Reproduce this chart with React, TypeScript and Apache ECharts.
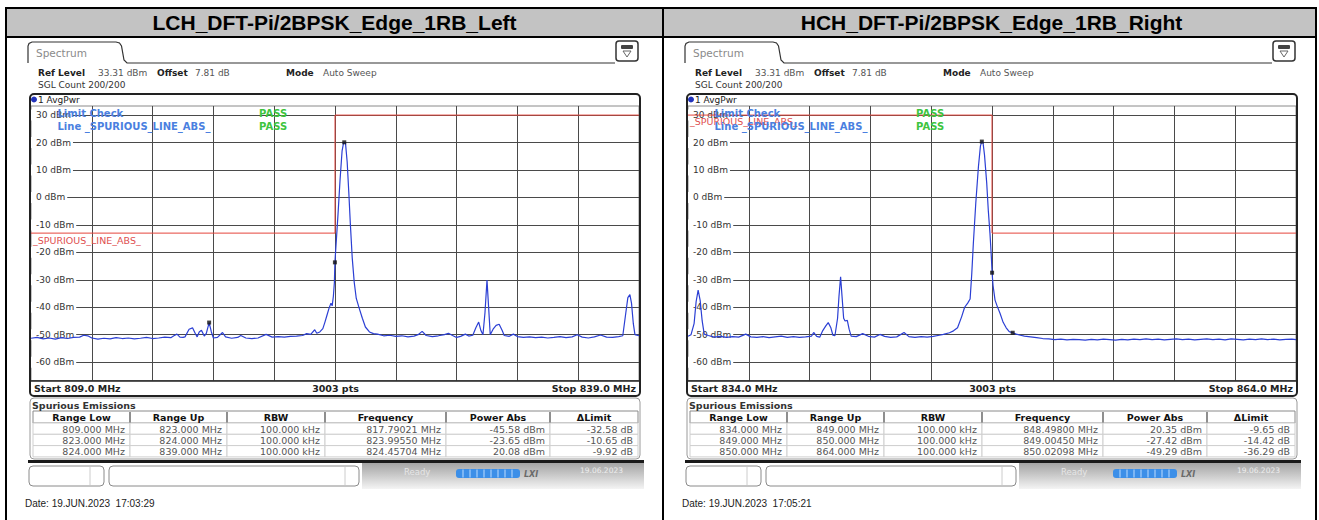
import { useEffect, useRef } from "react";
import * as echarts from "echarts";

// ---------------- data ----------------
const panelTitles = ["LCH_DFT-Pi/2BPSK_Edge_1RB_Left", "HCH_DFT-Pi/2BPSK_Edge_1RB_Right"];
const startLabels = ["Start 809.0 MHz", "Start 834.0 MHz"];
const stopLabels = ["Stop 839.0 MHz", "Stop 864.0 MHz"];
const startFreqs = [809, 834];
const stopFreqs = [839, 864];
const refLevel = 33.31;
const bottomLevel = -66.69;
const levelTicks = [30, 20, 10, 0, -10, -20, -30, -40, -50, -60];
const lchFreqTicks = [812, 815, 818, 821, 824, 827, 830, 833, 836];
const hchFreqTicks = [837, 840, 843, 846, 849, 852, 855, 858, 861];

const lchTrace: [number, number][] = [
  [809.0, -51.3], [809.3, -51.0], [809.6, -51.5], [809.9, -51.2], [810.2, -51.6], [810.5, -51.1],
  [810.8, -51.4], [811.1, -51.0], [811.4, -50.9], [811.6, -50.2], [811.8, -50.4], [812.0, -51.2],
  [812.3, -51.6], [812.6, -51.3], [812.9, -51.5], [813.2, -51.1], [813.5, -51.4], [813.8, -51.2],
  [814.1, -51.5], [814.4, -51.3], [814.7, -51.0], [815.0, -51.4], [815.3, -51.2], [815.6, -50.9],
  [815.9, -51.1], [816.05, -50.4], [816.2, -49.8], [816.35, -50.9], [816.5, -51.0], [816.6, -50.8],
  [816.8, -48.0], [816.97, -47.5], [817.1, -49.5], [817.2, -50.8], [817.3, -49.0], [817.41, -48.4],
  [817.55, -50.5], [817.65, -49.5], [817.79, -45.58], [817.9, -49.0], [818.0, -51.2], [818.2, -51.0],
  [818.45, -49.2], [818.6, -50.8], [818.9, -51.3], [819.2, -51.0], [819.35, -50.3], [819.6, -51.2],
  [819.9, -51.4], [820.2, -51.2], [820.6, -49.9], [820.9, -50.9], [821.2, -50.7], [821.5, -50.9],
  [821.8, -50.6], [822.1, -50.5], [822.4, -50.3], [822.6, -49.6], [822.8, -49.9], [823.0, -48.2],
  [823.1, -49.5], [823.25, -49.0], [823.4, -47.8], [823.5, -45.5], [823.6, -43.0], [823.7, -40.5],
  [823.8, -38.5], [823.86, -39.5], [823.92, -36.0], [823.97, -31.0], [823.9955, -23.65], [824.08, -14.0],
  [824.15, -6.0], [824.25, 6.5], [824.35, 17.0], [824.42, 19.8], [824.457, 20.08], [824.52, 19.6],
  [824.6, 13.0], [824.68, 2.0], [824.76, -10.0], [824.85, -22.0], [824.95, -31.0], [825.05, -36.8],
  [825.2, -40.5], [825.35, -44.0], [825.5, -47.2], [825.7, -49.0], [825.9, -49.6], [826.1, -49.8],
  [826.4, -50.4], [826.7, -50.2], [827.0, -50.6], [827.3, -50.4], [827.6, -50.8], [827.9, -50.5],
  [828.1, -50.0], [828.3, -48.8], [828.5, -50.3], [828.8, -50.7], [829.1, -50.4], [829.4, -50.0],
  [829.6, -49.5], [829.8, -50.3], [830.0, -51.0], [830.2, -50.6], [830.43, -49.8], [830.6, -50.5],
  [830.8, -50.2], [830.95, -47.5], [831.09, -45.4], [831.2, -48.5], [831.3, -50.0], [831.4, -42.0],
  [831.5, -30.1], [831.58, -40.0], [831.66, -50.0], [831.8, -48.0], [831.95, -46.6], [832.1, -46.2],
  [832.25, -48.5], [832.35, -50.3], [832.6, -50.6], [832.8, -49.8], [833.0, -50.7], [833.3, -51.0],
  [833.6, -50.8], [833.9, -51.1], [834.2, -50.9], [834.5, -51.2], [834.8, -51.0], [835.1, -50.7],
  [835.4, -51.1], [835.7, -50.8], [835.95, -50.0], [836.2, -50.9], [836.5, -51.2], [836.8, -50.8],
  [837.1, -50.1], [837.4, -50.9], [837.7, -51.0], [838.0, -50.7], [838.2, -50.4], [838.35, -42.0],
  [838.45, -36.5], [838.55, -35.4], [838.63, -38.5], [838.72, -46.0], [838.8, -50.0], [839.0, -50.4],
];

const hchTrace: [number, number][] = [
  [834.0, -50.6], [834.15, -50.0], [834.3, -46.0], [834.4, -38.0], [834.5, -33.8], [834.6, -37.5],
  [834.7, -45.0], [834.8, -49.8], [835.0, -50.3], [835.3, -50.9], [835.6, -50.6], [835.9, -51.0],
  [836.2, -50.7], [836.5, -50.9], [836.85, -49.8], [837.1, -50.8], [837.4, -51.0], [837.7, -50.7],
  [838.0, -51.1], [838.3, -50.8], [838.6, -50.5], [838.9, -51.0], [839.2, -50.7], [839.5, -51.0],
  [839.8, -50.8], [840.1, -50.5], [840.2, -49.2], [840.35, -50.6], [840.5, -50.9], [840.65, -48.5],
  [840.8, -46.8], [840.92, -45.6], [841.05, -47.5], [841.15, -50.2], [841.25, -50.4], [841.38, -44.0],
  [841.45, -36.0], [841.53, -28.9], [841.6, -36.0], [841.68, -44.0], [841.75, -45.0], [841.86, -44.8],
  [841.95, -48.0], [842.05, -50.5], [842.3, -50.7], [842.62, -49.6], [842.9, -50.6], [843.2, -50.9],
  [843.47, -49.9], [843.7, -50.6], [844.0, -51.0], [844.3, -50.8], [844.66, -49.2], [844.9, -50.7],
  [845.2, -51.0], [845.5, -50.7], [845.8, -50.9], [846.1, -50.6], [846.4, -50.2], [846.6, -49.9],
  [846.9, -49.3], [847.1, -48.6], [847.3, -47.5], [847.5, -43.5], [847.65, -40.0], [847.8, -38.5],
  [847.92, -37.0], [848.0, -28.0], [848.08, -16.7], [848.2, -2.0], [848.33, 11.2], [848.43, 18.8],
  [848.498, 20.35], [848.56, 19.8], [848.63, 15.5], [848.74, 5.2], [848.82, -5.0], [848.9, -13.1],
  [848.97, -22.0], [849.0045, -27.42], [849.05, -32.0], [849.15, -37.4], [849.25, -39.5], [849.4, -42.3],
  [849.55, -45.5], [849.7, -47.5], [849.85, -48.9], [850.02098, -49.29], [850.2, -49.8], [850.4, -50.2],
  [850.6, -50.5], [850.9, -50.8], [851.2, -51.1], [851.5, -51.4], [851.8, -51.5], [852.1, -51.8],
  [852.4, -51.6], [852.7, -51.9], [853.0, -51.7], [853.3, -51.8], [853.6, -52.0], [853.9, -51.7],
  [854.2, -51.9], [854.5, -51.6], [854.8, -51.8], [855.1, -52.0], [855.4, -51.7], [855.7, -51.9],
  [856.0, -51.6], [856.3, -51.8], [856.6, -51.5], [856.9, -51.8], [857.2, -51.6], [857.5, -51.9],
  [857.8, -51.7], [858.1, -51.5], [858.4, -51.8], [858.7, -51.6], [859.0, -51.9], [859.3, -51.7],
  [859.6, -51.5], [859.9, -51.8], [860.2, -51.6], [860.5, -51.9], [860.8, -51.5], [861.1, -51.7],
  [861.4, -51.9], [861.7, -51.6], [862.0, -51.8], [862.3, -51.5], [862.6, -51.8], [862.9, -51.6],
  [863.2, -51.9], [863.5, -51.7], [863.8, -51.6], [864.0, -51.8],
];

const lchLimit: [number, number][] = [[809, -13], [824, -13], [824, 30], [839, 30]];
const hchLimit: [number, number][] = [[834, 30], [849, 30], [849, -13], [864, -13]];
const lchMarkers: [number, number][] = [[817.79021, -45.58], [823.9955, -23.65], [824.45704, 20.08]];
const hchMarkers: [number, number][] = [[848.498, 20.35], [849.0045, -27.42], [850.02098, -49.29]];

const tableHeaders = ["Range Low", "Range Up", "RBW", "Frequency", "Power Abs", "\u0394Limit"];
const lchRows = [
  ["809.000 MHz", "823.000 MHz", "100.000 kHz", "817.79021 MHz", "-45.58 dBm", "-32.58 dB"],
  ["823.000 MHz", "824.000 MHz", "100.000 kHz", "823.99550 MHz", "-23.65 dBm", "-10.65 dB"],
  ["824.000 MHz", "839.000 MHz", "100.000 kHz", "824.45704 MHz", "20.08 dBm", "-9.92 dB"],
];
const hchRows = [
  ["834.000 MHz", "849.000 MHz", "100.000 kHz", "848.49800 MHz", "20.35 dBm", "-9.65 dB"],
  ["849.000 MHz", "850.000 MHz", "100.000 kHz", "849.00450 MHz", "-27.42 dBm", "-14.42 dB"],
  ["850.000 MHz", "864.000 MHz", "100.000 kHz", "850.02098 MHz", "-49.29 dBm", "-36.29 dB"],
];
const dateLabels = ["Date: 19.JUN.2023  17:03:29", "Date: 19.JUN.2023  17:05:21"];

// ---------------- layout helpers ----------------
const PANEL_DX = 657;
const FONT = "DejaVu Sans";

function txt(x: number, y: number, text: string, o: any = {}) {
  return {
    type: "text",
    x,
    y,
    z: o.z ?? 10,
    silent: true,
    style: {
      text,
      fill: o.color ?? "#222",
      fontSize: o.size ?? 9,
      fontFamily: o.family ?? FONT,
      fontWeight: o.weight ?? "normal",
      fontStyle: o.style ?? "normal",
      align: o.align ?? "left",
      verticalAlign: "middle",
    },
  };
}
function ln(x1: number, y1: number, x2: number, y2: number, stroke: string, w = 1, z = 5) {
  return { type: "line", z, silent: true, shape: { x1, y1, x2, y2 }, style: { stroke, lineWidth: w } };
}
function rc(x: number, y: number, width: number, height: number, style: any, r = 0, z = 1) {
  return { type: "rect", z, silent: true, shape: { x, y, width, height, r }, style };
}

function panelGraphics(i: number) {
  const dx = i * PANEL_DX;
  const g: any[] = [];
  const rows = i === 0 ? lchRows : hchRows;
  // tab
  g.push({
    type: "polyline",
    z: 5,
    silent: true,
    shape: {
      points: [
        [28 + dx, 63], [28 + dx, 46], [29 + dx, 43.5], [32 + dx, 42], [116 + dx, 42], [119.5 + dx, 43],
        [121.5 + dx, 46], [124 + dx, 60], [127 + dx, 63], [615 + dx, 63],
      ],
    },
    style: { stroke: "#333", lineWidth: 1.2, fill: null },
  });
  g.push(txt(36 + dx, 53, "Spectrum", { size: 10.5, color: "#8a8a8a" }));
  // icon
  g.push(rc(616 + dx, 41, 22, 20, { fill: "#fff", stroke: "#333", lineWidth: 1.5 }, 3, 5));
  g.push(rc(621 + dx, 45, 12, 4, { fill: "#444" }, 1, 6));
  g.push({
    type: "polygon",
    z: 6,
    silent: true,
    shape: { points: [[623 + dx, 51], [631 + dx, 51], [627 + dx, 57]] },
    style: { fill: "none", stroke: "#666", lineWidth: 1 },
  });
  // header info
  g.push(txt(38 + dx, 73, "Ref Level", { weight: "bold" }));
  g.push(txt(98 + dx, 73, "33.31 dBm", { color: "#555" }));
  g.push(txt(157 + dx, 73, "Offset", { weight: "bold" }));
  g.push(txt(195 + dx, 73, "7.81 dB", { color: "#555" }));
  g.push(txt(286 + dx, 73, "Mode", { weight: "bold" }));
  g.push(txt(323 + dx, 73, "Auto Sweep", { color: "#555" }));
  g.push(txt(38 + dx, 85, "SGL Count 200/200", { color: "#333" }));
  // trace box
  g.push(rc(30 + dx, 94, 610, 302, { fill: "none", stroke: "#222", lineWidth: 2 }, 4, 5));
  g.push({ type: "circle", z: 6, silent: true, shape: { cx: 34 + dx, cy: 99.5, r: 3 }, style: { fill: "#2233bb" } });
  g.push(txt(38 + dx, 99.5, "1 AvgPwr", { color: "#222" }));
  g.push(ln(30 + dx, 381, 640 + dx, 381, "#222", 1.5));
  g.push(txt(34 + dx, 388.5, startLabels[i], { weight: "bold", size: 9.5 }));
  g.push(txt(335.5 + dx, 388.5, "3003 pts", { weight: "bold", size: 9.5, align: "center" }));
  g.push(txt(636 + dx, 388.5, stopLabels[i], { weight: "bold", size: 9.5, align: "right" }));
  // in-plot overlays (they overlap the top tick label in the original screenshot too)
  g.push(txt(57.5 + dx, 113, "Limit Check", { weight: "bold", size: 10, color: "#4a7fe0", z: 20 }));
  g.push(txt(57.5 + dx, 126, "Line _SPURIOUS_LINE_ABS_", { weight: "bold", size: 10, color: "#4a7fe0", z: 20 }));
  g.push(txt(259 + dx, 113, "PASS", { weight: "bold", size: 10, color: "#3ec43e", z: 20 }));
  g.push(txt(259 + dx, 126, "PASS", { weight: "bold", size: 10, color: "#3ec43e", z: 20 }));
  g.push(txt(33 + dx, i === 0 ? 240 : 121.5, "_SPURIOUS_LINE_ABS_", { size: 9.5, color: "#e05050", z: 19 }));
  // spurious table
  g.push(rc(30 + dx, 398, 610, 61, { fill: "#fff", stroke: "#9a9a9a", lineWidth: 1 }, 4, 1));
  g.push(txt(32 + dx, 405, "Spurious Emissions", { weight: "bold", size: 9.5, color: "#333" }));
  const edges = [33, 130, 227, 325, 446, 550, 638];
  g.push(rc(edges[0] + dx, 411, edges[6] - edges[0], 12, { fill: "#fff", stroke: "#8a8a8a", lineWidth: 1 }, 0, 2));
  for (let c = 0; c < 6; c++) {
    if (c > 0) g.push(ln(edges[c] + dx, 412, edges[c] + dx, 422.5, "#444", 1.2, 3));
    g.push(txt((edges[c] + edges[c + 1]) / 2 + dx, 417.5, tableHeaders[c], { weight: "bold", size: 9.5, color: "#111", align: "center" }));
  }
  rows.forEach((row, r) => {
    const y0 = 423 + r * 11.3;
    for (let c = 0; c < 6; c++) {
      g.push(rc(edges[c] + dx, y0, edges[c + 1] - edges[c], 11.3, { fill: "#fff", stroke: "#cfcfcf", lineWidth: 1 }, 0, 2));
      g.push(txt(edges[c + 1] - 5 + dx, y0 + 6, row[c], { size: 9.5, color: "#555", align: "right" }));
    }
  });
  // status bar
  g.push(rc(28 + dx, 460, 616, 3, { fill: "#1a1a1a" }, 0, 4));
  g.push(rc(362 + dx, 463, 282, 26, {
    fill: {
      type: "linear", x: 0, y: 0, x2: 0, y2: 1,
      colorStops: [{ offset: 0, color: "#a4a4a4" }, { offset: 1, color: "#f4f4f4" }],
    },
  }, 0, 1));
  g.push(rc(29 + dx, 466, 75, 20, { fill: "#fff", stroke: "#8a8a8a", lineWidth: 1 }, 4, 2));
  g.push(ln(90 + dx, 467, 90 + dx, 485, "#cccccc", 1, 3));
  g.push(rc(109 + dx, 466, 250, 20, { fill: "#fff", stroke: "#8a8a8a", lineWidth: 1 }, 4, 2));
  g.push(ln(345 + dx, 467, 345 + dx, 485, "#cccccc", 1, 3));
  g.push(txt(404 + dx, 472, "Ready", { size: 8.5, color: "#e6e6e6" }));
  g.push(rc(456 + dx, 469, 64, 9, { fill: "#3c8fe8" }, 3, 3));
  for (let k = 1; k < 9; k++) g.push(ln(456 + dx + k * 7, 469.5, 456 + dx + k * 7, 477.5, "#bcdcff", 1, 4));
  g.push(txt(524 + dx, 474, "LXI", { size: 8, weight: "bold", style: "italic", color: "#6a6a6a" }));
  g.push(txt(580 + dx, 470, "19.06.2023", { size: 7.5, color: "#eeeeee" }));
  // date
  g.push(txt(25 + dx, 503, dateLabels[i], { size: 10, family: "Liberation Sans", color: "#222" }));
  // panel title
  g.push(txt(334.5 + dx, 22.5, panelTitles[i], { size: 21, family: "Liberation Sans", weight: "bold", color: "#000", align: "center" }));
  return g;
}

export default function App() {
  const ref = useRef<HTMLDivElement>(null);
  useEffect(() => {
    if (!ref.current) return;
    const chart = echarts.init(ref.current, undefined, { renderer: "svg" });
    const freqTicks = [lchFreqTicks, hchFreqTicks];
    const traces = [lchTrace, hchTrace];
    const limits = [lchLimit, hchLimit];
    const markers = [lchMarkers, hchMarkers];

    const frame: any[] = [
      rc(6, 8, 1310, 29, { fill: "#c3c3c3" }, 0, 0),
      rc(6, 8, 1310, 520, { fill: "none", stroke: "#000", lineWidth: 2 }, 0, 8),
      ln(6, 37, 1316, 37, "#000", 2, 8),
      ln(663, 8, 663, 528, "#000", 2, 8),
    ];

    chart.setOption({
      animation: false,
      backgroundColor: "#fff",
      grid: [0, 1].map((i) => ({
        left: 31 + i * PANEL_DX,
        top: 106,
        width: 608,
        height: 274.5,
        show: true,
        borderColor: "#8a8a8a",
        borderWidth: 1,
        containLabel: false,
      })),
      xAxis: [0, 1].map((i) => ({
        type: "value",
        gridIndex: i,
        min: startFreqs[i],
        max: stopFreqs[i],
        axisLine: { show: false },
        axisTick: { show: false, customValues: freqTicks[i] },
        axisLabel: { show: false, customValues: freqTicks[i] },
        splitLine: { show: true, lineStyle: { color: "#4a4a4a", width: 1 } },
      })),
      yAxis: [0, 1].map((i) => ({
        type: "value",
        gridIndex: i,
        min: bottomLevel,
        max: refLevel,
        axisLine: { show: false },
        axisTick: { show: false, customValues: levelTicks },
        axisLabel: {
          show: true,
          inside: true,
          customValues: levelTicks,
          formatter: (v: number) => `${v} dBm`,
          margin: 0,
          color: "#333",
          fontFamily: FONT,
          fontSize: 9,
          backgroundColor: "#fff",
          padding: [1, 2, 1, 5],
        },
        splitLine: { show: true, lineStyle: { color: "#4a4a4a", width: 1 } },
      })),
      series: [0, 1].flatMap((i) => [
        {
          type: "line",
          xAxisIndex: i,
          yAxisIndex: i,
          data: limits[i],
          symbol: "none",
          lineStyle: { color: "#e5453c", width: 1 },
          z: 2,
          silent: true,
        },
        {
          type: "line",
          xAxisIndex: i,
          yAxisIndex: i,
          data: traces[i],
          symbol: "none",
          lineStyle: { color: "#2b3fd4", width: 1.2 },
          z: 3,
          silent: true,
        },
        {
          type: "scatter",
          xAxisIndex: i,
          yAxisIndex: i,
          data: markers[i],
          symbol: "rect",
          symbolSize: 4,
          itemStyle: { color: "#111" },
          z: 5,
          silent: true,
        },
      ]),
      graphic: { elements: [...frame, ...panelGraphics(0), ...panelGraphics(1)] },
    });
    return () => chart.dispose();
  }, []);
  return (
    <div
      ref={ref}
      style={{ position: "fixed", left: 0, top: 0, width: 1319, height: 520, background: "#fff" }}
    />
  );
}
